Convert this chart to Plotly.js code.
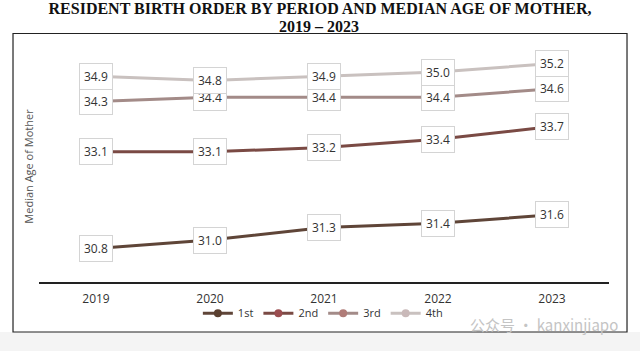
<!DOCTYPE html>
<html><head><meta charset="utf-8">
<script src="https://cdn.plot.ly/plotly-3.0.1.min.js"></script>
<style>html,body{margin:0;padding:0;background:#fff;}</style>
</head><body><div id="chart" style="width:640px;height:351px;"></div>
<script>
const years = ["2019", "2020", "2021", "2022", "2023"];
const seriesNames = ["1st", "2nd", "3rd", "4th"];
const first = [30.8, 31.0, 31.3, 31.4, 31.6];
const second = [33.1, 33.1, 33.2, 33.4, 33.7];
const third = [34.3, 34.4, 34.4, 34.4, 34.6];
const fourth = [34.9, 34.8, 34.9, 35.0, 35.2];

const allSeries = [first, second, third, fourth];
const lineColors = ["#5f4538", "#7a4a44", "#a38b88", "#c9c1bf"];
const markerColors = ["#5a3f2f", "#9b4d50", "#b07c78", "#c9b9b9"];

const traces = allSeries.map((vals, i) => ({
  type: "scatter", mode: "lines+markers", name: seriesNames[i],
  x: years, y: vals,
  line: {color: lineColors[i], width: 3},
  marker: {color: markerColors[i], size: 8},
  hoverinfo: "skip"
}));

const annotations = [];
allSeries.forEach((vals) => {
  vals.forEach((v, j) => {
    annotations.push({
      x: j, y: v, xref: "x", yref: "y",
      text: v.toFixed(1), showarrow: false,
      font: {family: "Open Sans, Noto Sans, sans-serif", size: 12, color: "#333"},
      bgcolor: "#ffffff", bordercolor: "#d4d4d4", borderwidth: 1, borderpad: 4
    });
  });
});
annotations.push({
  xref: "paper", yref: "paper", x: 0.492, y: 1.108, xanchor: "center", yanchor: "middle",
  text: "<b>2019 – 2023</b>", showarrow: false,
  font: {family: "Liberation Serif, Times New Roman, serif", size: 16, color: "#111"}
});
annotations.push({
  xref: "paper", yref: "paper", x: 1.02, y: -0.185, xanchor: "right", yanchor: "middle",
  text: "公众号 · kanxinjiapo", showarrow: false,
  font: {family: "Noto Sans CJK SC, sans-serif", size: 15, color: "#c4c4c4"}
});

const layout = {
  width: 640, height: 351,
  margin: {l: 39, r: 31, t: 51, b: 69},
  paper_bgcolor: "#ffffff", plot_bgcolor: "rgba(0,0,0,0)",
  title: {
    text: "<b>RESIDENT BIRTH ORDER BY PERIOD AND MEDIAN AGE OF MOTHER,</b>",
    font: {family: "Liberation Serif, Times New Roman, serif", size: 16, color: "#111"},
    x: 0.5, xanchor: "center", y: 1 - 8.5 / 351, yanchor: "middle", yref: "container"
  },
  xaxis: {
    type: "category", range: [-0.5, 4.5], showgrid: false, zeroline: false,
    showline: true, linecolor: "#222", linewidth: 1.5,
    ticks: "", ticklabelstandoff: 5,
    tickfont: {family: "Open Sans, Noto Sans, sans-serif", size: 12, color: "#333"},
    fixedrange: true
  },
  yaxis: {
    range: [30, 35.5], showgrid: false, zeroline: false, showline: false,
    showticklabels: false, ticks: "",
    title: {text: "Median Age of Mother", standoff: 2,
      font: {family: "Open Sans, Noto Sans, sans-serif", size: 11, color: "#555"}},
    fixedrange: true
  },
  showlegend: true,
  legend: {
    orientation: "h", x: 0.498, xanchor: "center", y: -0.135, yanchor: "middle",
    font: {family: "Open Sans, Noto Sans, sans-serif", size: 11, color: "#333"},
    itemwidth: 30, tracegroupgap: 0, bgcolor: "rgba(0,0,0,0)"
  },
  shapes: [
    {type: "rect", xref: "paper", yref: "paper", x0: -0.07, x1: 1.06, y0: -0.2165, y1: -0.31,
     fillcolor: "#f4f4f4", line: {width: 0}, layer: "below"},
    {type: "rect", xref: "paper", yref: "paper", x0: -0.0456, x1: 1.0316, y0: -0.2165, y1: 1.0758,
     fillcolor: "rgba(0,0,0,0)", line: {color: "#222", width: 1.2}, layer: "below"}
  ],
  annotations: annotations
};

Plotly.newPlot("chart", traces, layout, {displayModeBar: false, staticPlot: true});
</script>
</body></html>
